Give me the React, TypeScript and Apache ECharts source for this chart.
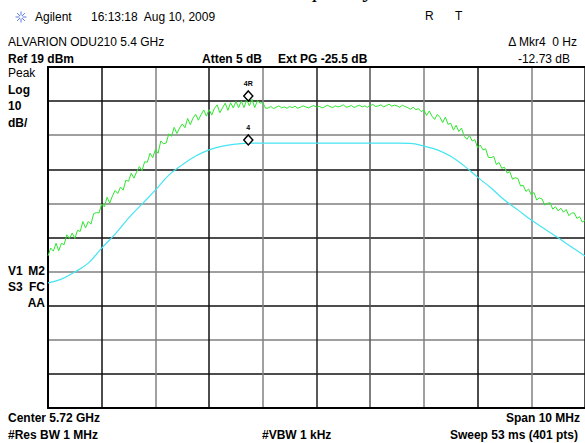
import React, { useEffect, useRef } from "react";
import * as echarts from "echarts";

// Sweep: Center 5.72 GHz, Span 10 MHz (MHz)
const freqStart = 5715;
const freqStop = 5725;

// Green (measured, noisy) trace, read every 0.05 MHz (dBm)
const greenStep = 0.05;
const greenTrace = [
  -36.4, -34.1, -35.0, -32.7, -34.9, -32.7, -33.1, -30.2, -31.3, -29.7,
  -31.3, -28.9, -29.2, -26.3, -28.2, -26.3, -27.1, -24.0, -23.7, -23.8,
  -21.2, -22.0, -19.2, -20.9, -18.8, -17.2, -18.1, -16.2, -17.1, -14.2,
  -14.5, -12.1, -13.6, -11.8, -10.2, -11.4, -8.8, -8.9, -6.3, -7.6,
  -5.2, -6.3, -2.7, -3.5, -3.3, -0.6, -1.3, 1.3, -0.5, 1.1,
  2.3, 1.2, 3.9, 2.1, 4.0, 5.1, 3.4, 5.0, 6.4, 4.6,
  6.5, 4.9, 6.9, 7.9, 5.6, 7.0, 8.4, 6.3, 8.5, 7.0,
  8.9, 7.1, 9.0, 7.1, 9.4, 7.6, 9.5, 7.1, 9.1, 8.4,
  8.6, 6.9, 7.0, 7.4, 6.8, 7.2, 7.6, 7.0, 7.3, 6.9,
  7.4, 7.1, 7.5, 6.9, 7.2, 7.6, 7.3, 7.0, 7.4, 7.7,
  7.2, 7.5, 7.0, 7.3, 7.8, 7.4, 7.1, 7.6, 7.3, 7.5,
  7.9, 7.2, 7.4, 7.7, 7.1, 7.5, 7.8, 7.3, 7.6, 7.2,
  7.7, 8.0, 7.4, 7.6, 7.9, 7.3, 7.7, 8.1, 7.5, 7.8,
  7.6, 7.2, 7.8, 7.4, 7.1, 6.6, 7.2, 6.5, 6.8, 5.9,
  6.4, 4.8, 6.1, 4.6, 3.6, 5.1, 4.2, 2.7, 4.3, 2.2,
  2.5, 0.5, 1.9, 0.1, 1.1, -1.3, -2.2, -1.1, -2.7, -2.3,
  -4.7, -3.9, -5.3, -5.0, -7.5, -7.6, -7.2, -9.6, -9.0, -10.7,
  -10.4, -12.1, -11.7, -13.9, -13.5, -13.7, -15.9, -15.7, -17.5, -16.8,
  -18.5, -17.8, -20.0, -19.4, -19.7, -21.5, -21.0, -20.8, -22.7, -22.0,
  -23.2, -22.4, -23.6, -22.8, -24.6, -23.8, -23.8, -25.4, -24.9, -26.5,
  -26.0,
];

// Cyan (smooth) trace, read every 0.25 MHz (dBm)
const cyanStep = 0.25;
const cyanTrace = [
  -44.3, -43.2, -41.1, -38.5, -34.1, -30.0, -25.3, -21.2, -17.1, -12.7,
  -9.7, -7.1, -5.3, -4.2, -3.6, -3.3, -3.3, -3.3, -3.3, -3.3,
  -3.3, -3.3, -3.3, -3.3, -3.3, -3.3, -3.3, -3.4, -4.2, -5.3,
  -7.2, -10.0, -13.3, -16.5, -20.0, -22.9, -25.9, -28.5, -31.1, -33.8,
  -36.4,
];

// Markers
const markerFreq = 5718.73;
const markerLevels = [10.5, -2.4];
const markerLabels = ["4R", "4"];

// Screen scale: Ref 19 dBm, 10 dB/div, 10 divisions
const refLevel = 19;
const dbPerDiv = 10;
const divisions = 10;

const SANS = '"Liberation Sans", Arial, sans-serif';

export default function App() {
  const ref = useRef<HTMLDivElement>(null);

  useEffect(() => {
    if (!ref.current) return;
    const chart = echarts.init(ref.current, undefined, { renderer: "svg" });

    const txt = (
      text: string,
      x: number,
      y: number,
      opts: { bold?: boolean; size?: number; align?: string; fill?: string; family?: string; va?: string } = {}
    ) => ({
      type: "text",
      x,
      y,
      silent: true,
      z: 10,
      style: {
        text,
        font: `${opts.bold ? "bold " : ""}${opts.size ?? 12}px ${opts.family ?? SANS}`,
        fill: opts.fill ?? "#000",
        textAlign: opts.align ?? "left",
        align: opts.align ?? "left",
        textVerticalAlign: opts.va ?? "middle",
        verticalAlign: opts.va ?? "middle",
      },
    });

    const spokes: any[] = [];
    for (let k = 0; k < 8; k++) {
      const a = (Math.PI * k) / 4;
      spokes.push({
        type: "line",
        silent: true,
        shape: {
          x1: 21 + Math.cos(a) * 1.5,
          y1: 17 + Math.sin(a) * 1.5,
          x2: 21 + Math.cos(a) * 5.5,
          y2: 17 + Math.sin(a) * 5.5,
        },
        style: { stroke: "#5b7be0", lineWidth: 1 },
      });
    }

    const vColors = ["#111", "#111", "#808080", "#111", "#808080", "#222", "#555", "#808080", "#111", "#808080", "#111"];

    const option: any = {
      animation: false,
      backgroundColor: "#fff",
      grid: { left: 48, right: -3, top: 67, bottom: 35, containLabel: false },
      xAxis: [
        {
          type: "value",
          min: freqStart,
          max: freqStop,
          interval: 1,
          axisLine: { show: true, onZero: false, lineStyle: { color: "#000", width: 2 } },
          axisTick: { show: false },
          axisLabel: { show: false },
          splitLine: { show: true, lineStyle: { color: vColors, width: 1.5 } },
        },
        {
          type: "value",
          position: "top",
          min: 0,
          max: 1,
          axisLine: { show: true, onZero: false, lineStyle: { color: "#000", width: 2 } },
          axisTick: { show: false },
          axisLabel: { show: false },
          splitLine: { show: false },
        },
      ],
      yAxis: [
        {
          type: "value",
          min: refLevel - dbPerDiv * divisions,
          max: refLevel,
          axisLine: { show: true, onZero: false, lineStyle: { color: "#000", width: 2 } },
          axisTick: { show: false },
          axisLabel: { show: false },
          splitLine: { show: false },
        },
        {
          type: "value",
          min: 0,
          max: divisions,
          interval: 1,
          axisLine: { show: false },
          axisTick: { show: false },
          axisLabel: { show: false },
          splitLine: { show: true, lineStyle: { color: ["#7f7f7f", "#111"], width: 1.5 } },
        },
      ],
      series: [
        {
          type: "line",
          name: "cyan",
          xAxisIndex: 0,
          yAxisIndex: 0,
          data: cyanTrace.map((v, i) => [freqStart + i * cyanStep, v]),
          showSymbol: false,
          smooth: 0.4,
          lineStyle: { color: "#45e4f2", width: 1.2 },
          z: 3,
        },
        {
          type: "line",
          name: "green",
          xAxisIndex: 0,
          yAxisIndex: 0,
          data: greenTrace.map((v, i) => [freqStart + i * greenStep, v]),
          showSymbol: false,
          lineStyle: { color: "#2ee62e", width: 1 },
          z: 4,
        },
        {
          type: "scatter",
          name: "markers",
          xAxisIndex: 0,
          yAxisIndex: 0,
          data: markerLevels.map((v, i) => ({ value: [markerFreq, v], name: markerLabels[i] })),
          symbol: "diamond",
          symbolSize: [9, 10],
          itemStyle: { color: "#fff", borderColor: "#000", borderWidth: 1.5, opacity: 1 },
          label: {
            show: true,
            position: "top",
            distance: 3,
            formatter: (p: any) => p.name,
            fontSize: 7,
            fontWeight: "bold",
            fontFamily: SANS,
            color: "#000",
          },
          z: 6,
        },
      ],
      graphic: [
        txt("Frequency", 273, 1, { size: 24, family: '"Liberation Serif", "Times New Roman", serif', va: "bottom" }),
        ...spokes,
        txt("Agilent", 35, 17),
        txt("16:13:18  Aug 10, 2009", 91, 17),
        txt("R", 425, 16),
        txt("T", 455, 16),
        txt("ALVARION ODU210 5.4 GHz", 8, 42),
        txt("\u0394 Mkr4  0 Hz", 577, 42, { align: "right" }),
        txt("Ref 19 dBm", 8, 59, { bold: true }),
        txt("Atten 5 dB", 202, 59, { bold: true }),
        txt("Ext PG -25.5 dB", 278, 59, { bold: true }),
        txt("-12.73 dB", 570, 59, { align: "right" }),
        txt("Peak", 8, 73),
        txt("Log", 8, 90, { bold: true }),
        txt("10", 8, 106, { bold: true }),
        txt("dB/", 8, 123, { bold: true }),
        txt("V1", 8, 271, { bold: true }),
        txt("M2", 45, 271, { bold: true, align: "right" }),
        txt("S3", 8, 287, { bold: true }),
        txt("FC", 45, 287, { bold: true, align: "right" }),
        txt("AA", 45, 303, { bold: true, align: "right" }),
        txt("Center 5.72 GHz", 8, 418, { bold: true }),
        txt("Span 10 MHz", 580, 418, { bold: true, align: "right" }),
        txt("#Res BW 1 MHz", 8, 435, { bold: true }),
        txt("#VBW 1 kHz", 262, 435, { bold: true }),
        txt("Sweep 53 ms (401 pts)", 578, 435, { bold: true, align: "right" }),
      ],
    };

    chart.setOption(option);
    return () => chart.dispose();
  }, []);

  return (
    <div
      ref={ref}
      style={{ position: "fixed", left: 0, top: 0, width: 585, height: 443, background: "#fff" }}
    />
  );
}
